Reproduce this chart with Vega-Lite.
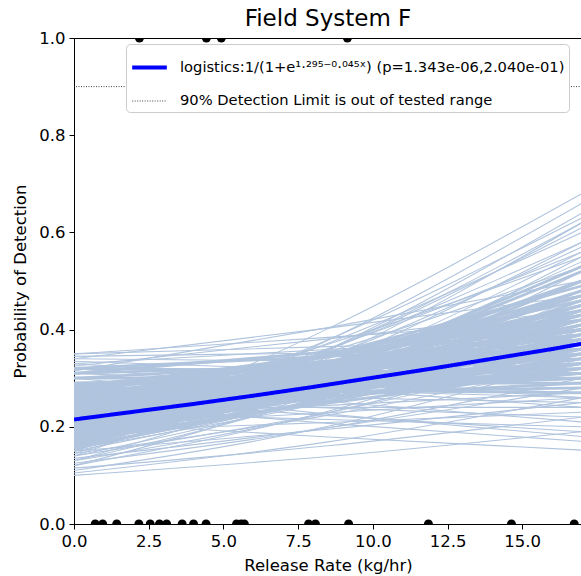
{
"$schema": "https://vega.github.io/schema/vega-lite/v6.json",
"width": 508,
"height": 486,
"autosize": {"type": "none"},
"padding": {"left": 74, "top": 38, "right": 0, "bottom": 52},
"title": {"text": "Field System F", "fontSize": 23, "font": "DejaVu Sans", "fontWeight": "normal", "color": "black", "offset": -1},
"config": {
  "font": "DejaVu Sans",
  "view": {"stroke": "black", "strokeWidth": 1},
  "axis": {"grid": false, "domainColor": "black", "tickColor": "black", "labelColor": "black", "titleColor": "black", "labelFontSize": 16.5, "titleFontSize": 16.5, "titleFontWeight": "normal", "tickSize": 5, "labelPadding": 4, "labelFont": "DejaVu Sans", "titleFont": "DejaVu Sans", "labelFlush": false},
  "legend": {"orient": "none", "legendX": 52, "legendY": 6, "fillColor": "white", "strokeColor": "#cccccc", "cornerRadius": 4, "padding": 4, "labelFontSize": 14.7, "labelFont": "DejaVu Sans", "labelColor": "black", "labelOffset": 11, "symbolType": "stroke", "symbolSize": 1200, "rowPadding": 7, "labelLimit": 0}
},
"datasets": {
"boot": [
{"g":1,"x":0,"p":0.16},{"g":1,"x":8.5,"p":0.304},{"g":1,"x":17,"p":0.5},
{"g":2,"x":0,"p":0.165},{"g":2,"x":8.5,"p":0.291},{"g":2,"x":17,"p":0.46},
{"g":3,"x":0,"p":0.17},{"g":3,"x":8.5,"p":0.32},{"g":3,"x":17,"p":0.52},
{"g":4,"x":0,"p":0.17},{"g":4,"x":8.5,"p":0.278},{"g":4,"x":17,"p":0.42},
{"g":5,"x":0,"p":0.175},{"g":5,"x":8.5,"p":0.307},{"g":5,"x":17,"p":0.48},
{"g":6,"x":0,"p":0.18},{"g":6,"x":8.5,"p":0.298},{"g":6,"x":17,"p":0.45},
{"g":7,"x":0,"p":0.18},{"g":7,"x":8.5,"p":0.268},{"g":7,"x":17,"p":0.38},
{"g":8,"x":0,"p":0.185},{"g":8,"x":8.5,"p":0.323},{"g":8,"x":17,"p":0.5},
{"g":9,"x":0,"p":0.19},{"g":9,"x":8.5,"p":0.288},{"g":9,"x":17,"p":0.41},
{"g":10,"x":0,"p":0.19},{"g":10,"x":8.5,"p":0.313},{"g":10,"x":17,"p":0.47},
{"g":11,"x":0,"p":0.195},{"g":11,"x":8.5,"p":0.27},{"g":11,"x":17,"p":0.36},
{"g":12,"x":0,"p":0.2},{"g":12,"x":8.5,"p":0.307},{"g":12,"x":17,"p":0.44},
{"g":13,"x":0,"p":0.2},{"g":13,"x":8.5,"p":0.286},{"g":13,"x":17,"p":0.39},
{"g":14,"x":0,"p":0.205},{"g":14,"x":8.5,"p":0.328},{"g":14,"x":17,"p":0.48},
{"g":15,"x":0,"p":0.21},{"g":15,"x":8.5,"p":0.27},{"g":15,"x":17,"p":0.34},
{"g":16,"x":0,"p":0.21},{"g":16,"x":8.5,"p":0.305},{"g":16,"x":17,"p":0.42},
{"g":17,"x":0,"p":0.215},{"g":17,"x":8.5,"p":0.286},{"g":17,"x":17,"p":0.37},
{"g":18,"x":0,"p":0.22},{"g":18,"x":8.5,"p":0.324},{"g":18,"x":17,"p":0.45},
{"g":19,"x":0,"p":0.22},{"g":19,"x":8.5,"p":0.262},{"g":19,"x":17,"p":0.31},
{"g":20,"x":0,"p":0.225},{"g":20,"x":8.5,"p":0.306},{"g":20,"x":17,"p":0.4},
{"g":21,"x":0,"p":0.23},{"g":21,"x":8.5,"p":0.291},{"g":21,"x":17,"p":0.36},
{"g":22,"x":0,"p":0.23},{"g":22,"x":8.5,"p":0.349},{"g":22,"x":17,"p":0.49},
{"g":23,"x":0,"p":0.235},{"g":23,"x":8.5,"p":0.28},{"g":23,"x":17,"p":0.33},
{"g":24,"x":0,"p":0.24},{"g":24,"x":8.5,"p":0.328},{"g":24,"x":17,"p":0.43},
{"g":25,"x":0,"p":0.24},{"g":25,"x":8.5,"p":0.264},{"g":25,"x":17,"p":0.29},
{"g":26,"x":0,"p":0.245},{"g":26,"x":8.5,"p":0.308},{"g":26,"x":17,"p":0.38},
{"g":27,"x":0,"p":0.25},{"g":27,"x":8.5,"p":0.298},{"g":27,"x":17,"p":0.35},
{"g":28,"x":0,"p":0.25},{"g":28,"x":8.5,"p":0.348},{"g":28,"x":17,"p":0.46},
{"g":29,"x":0,"p":0.255},{"g":29,"x":8.5,"p":0.277},{"g":29,"x":17,"p":0.3},
{"g":30,"x":0,"p":0.26},{"g":30,"x":8.5,"p":0.326},{"g":30,"x":17,"p":0.4},
{"g":31,"x":0,"p":0.26},{"g":31,"x":8.5,"p":0.294},{"g":31,"x":17,"p":0.33},
{"g":32,"x":0,"p":0.265},{"g":32,"x":8.5,"p":0.272},{"g":32,"x":17,"p":0.28},
{"g":33,"x":0,"p":0.27},{"g":33,"x":8.5,"p":0.318},{"g":33,"x":17,"p":0.37},
{"g":34,"x":0,"p":0.27},{"g":34,"x":8.5,"p":0.345},{"g":34,"x":17,"p":0.43},
{"g":35,"x":0,"p":0.275},{"g":35,"x":8.5,"p":0.292},{"g":35,"x":17,"p":0.31},
{"g":36,"x":0,"p":0.28},{"g":36,"x":8.5,"p":0.314},{"g":36,"x":17,"p":0.35},
{"g":37,"x":0,"p":0.28},{"g":37,"x":8.5,"p":0.275},{"g":37,"x":17,"p":0.27},
{"g":38,"x":0,"p":0.285},{"g":38,"x":8.5,"p":0.335},{"g":38,"x":17,"p":0.39},
{"g":39,"x":0,"p":0.29},{"g":39,"x":8.5,"p":0.305},{"g":39,"x":17,"p":0.32},
{"g":40,"x":0,"p":0.29},{"g":40,"x":8.5,"p":0.29},{"g":40,"x":17,"p":0.29},
{"g":41,"x":0,"p":0.155},{"g":41,"x":8.5,"p":0.275},{"g":41,"x":17,"p":0.44},
{"g":42,"x":0,"p":0.16},{"g":42,"x":8.5,"p":0.259},{"g":42,"x":17,"p":0.39},
{"g":43,"x":0,"p":0.165},{"g":43,"x":8.5,"p":0.321},{"g":43,"x":17,"p":0.53},
{"g":44,"x":0,"p":0.175},{"g":44,"x":8.5,"p":0.253},{"g":44,"x":17,"p":0.35},
{"g":45,"x":0,"p":0.185},{"g":45,"x":8.5,"p":0.293},{"g":45,"x":17,"p":0.43},
{"g":46,"x":0,"p":0.195},{"g":46,"x":8.5,"p":0.33},{"g":46,"x":17,"p":0.5},
{"g":47,"x":0,"p":0.2},{"g":47,"x":8.5,"p":0.26},{"g":47,"x":17,"p":0.33},
{"g":48,"x":0,"p":0.21},{"g":48,"x":8.5,"p":0.327},{"g":48,"x":17,"p":0.47},
{"g":49,"x":0,"p":0.22},{"g":49,"x":8.5,"p":0.294},{"g":49,"x":17,"p":0.38},
{"g":50,"x":0,"p":0.225},{"g":50,"x":8.5,"p":0.279},{"g":50,"x":17,"p":0.34},
{"g":51,"x":0,"p":0.23},{"g":51,"x":8.5,"p":0.313},{"g":51,"x":17,"p":0.41},
{"g":52,"x":0,"p":0.24},{"g":52,"x":8.5,"p":0.297},{"g":52,"x":17,"p":0.36},
{"g":53,"x":0,"p":0.245},{"g":53,"x":8.5,"p":0.349},{"g":53,"x":17,"p":0.47},
{"g":54,"x":0,"p":0.25},{"g":54,"x":8.5,"p":0.32},{"g":54,"x":17,"p":0.4},
{"g":55,"x":0,"p":0.26},{"g":55,"x":8.5,"p":0.344},{"g":55,"x":17,"p":0.44},
{"g":56,"x":0,"p":0.265},{"g":56,"x":8.5,"p":0.31},{"g":56,"x":17,"p":0.36},
{"g":57,"x":0,"p":0.27},{"g":57,"x":8.5,"p":0.285},{"g":57,"x":17,"p":0.3},
{"g":58,"x":0,"p":0.275},{"g":58,"x":8.5,"p":0.335},{"g":58,"x":17,"p":0.4},
{"g":59,"x":0,"p":0.28},{"g":59,"x":8.5,"p":0.347},{"g":59,"x":17,"p":0.42},
{"g":60,"x":0,"p":0.285},{"g":60,"x":8.5,"p":0.307},{"g":60,"x":17,"p":0.33},
{"g":61,"x":0,"p":0.3},{"g":61,"x":8.5,"p":0.329},{"g":61,"x":17,"p":0.36},
{"g":62,"x":0,"p":0.3},{"g":62,"x":8.5,"p":0.3},{"g":62,"x":17,"p":0.3},
{"g":63,"x":0,"p":0.31},{"g":63,"x":8.5,"p":0.325},{"g":63,"x":17,"p":0.34},
{"g":64,"x":0,"p":0.31},{"g":64,"x":8.5,"p":0.354},{"g":64,"x":17,"p":0.4},
{"g":65,"x":0,"p":0.32},{"g":65,"x":8.5,"p":0.315},{"g":65,"x":17,"p":0.31},
{"g":66,"x":0,"p":0.32},{"g":66,"x":8.5,"p":0.345},{"g":66,"x":17,"p":0.37},
{"g":67,"x":0,"p":0.19},{"g":67,"x":8.5,"p":0.249},{"g":67,"x":17,"p":0.32},
{"g":68,"x":0,"p":0.18},{"g":68,"x":8.5,"p":0.281},{"g":68,"x":17,"p":0.41},
{"g":69,"x":0,"p":0.205},{"g":69,"x":8.5,"p":0.28},{"g":69,"x":17,"p":0.37},
{"g":70,"x":0,"p":0.215},{"g":70,"x":8.5,"p":0.312},{"g":70,"x":17,"p":0.43},
{"g":71,"x":0,"p":0.235},{"g":71,"x":8.5,"p":0.334},{"g":71,"x":17,"p":0.45},
{"g":72,"x":0,"p":0.255},{"g":72,"x":8.5,"p":0.332},{"g":72,"x":17,"p":0.42},
{"g":73,"x":0,"p":0.17},{"g":73,"x":8.5,"p":0.253},{"g":73,"x":17,"p":0.36},
{"g":74,"x":0,"p":0.24},{"g":74,"x":8.5,"p":0.31},{"g":74,"x":17,"p":0.39},
{"g":75,"x":0,"p":0.22},{"g":75,"x":8.5,"p":0.28},{"g":75,"x":17,"p":0.35},
{"g":76,"x":0,"p":0.26},{"g":76,"x":8.5,"p":0.312},{"g":76,"x":17,"p":0.37},
{"g":77,"x":0,"p":0.2},{"g":77,"x":8.5,"p":0.298},{"g":77,"x":17,"p":0.42},
{"g":78,"x":0,"p":0.23},{"g":78,"x":8.5,"p":0.273},{"g":78,"x":17,"p":0.32},
{"g":79,"x":0,"p":0.195},{"g":79,"x":8.5,"p":0.304},{"g":79,"x":17,"p":0.44},
{"g":80,"x":0,"p":0.25},{"g":80,"x":8.5,"p":0.279},{"g":80,"x":17,"p":0.31},
{"g":81,"x":0,"p":0.175},{"g":81,"x":8.5,"p":0.402},{"g":81,"x":17,"p":0.68},
{"g":82,"x":0,"p":0.16},{"g":82,"x":8.5,"p":0.378},{"g":82,"x":17,"p":0.66},
{"g":83,"x":0,"p":0.15},{"g":83,"x":8.5,"p":0.359},{"g":83,"x":17,"p":0.64},
{"g":84,"x":0,"p":0.18},{"g":84,"x":8.5,"p":0.379},{"g":84,"x":17,"p":0.63},
{"g":85,"x":0,"p":0.14},{"g":85,"x":8.5,"p":0.34},{"g":85,"x":17,"p":0.62},
{"g":86,"x":0,"p":0.19},{"g":86,"x":8.5,"p":0.372},{"g":86,"x":17,"p":0.6},
{"g":87,"x":0,"p":0.15},{"g":87,"x":8.5,"p":0.33},{"g":87,"x":17,"p":0.58},
{"g":88,"x":0,"p":0.17},{"g":88,"x":8.5,"p":0.343},{"g":88,"x":17,"p":0.57},
{"g":89,"x":0,"p":0.2},{"g":89,"x":8.5,"p":0.361},{"g":89,"x":17,"p":0.56},
{"g":90,"x":0,"p":0.13},{"g":90,"x":8.5,"p":0.299},{"g":90,"x":17,"p":0.55},
{"g":91,"x":0,"p":0.165},{"g":91,"x":8.5,"p":0.357},{"g":91,"x":17,"p":0.61},
{"g":92,"x":0,"p":0.155},{"g":92,"x":8.5,"p":0.317},{"g":92,"x":17,"p":0.54},
{"g":93,"x":0,"p":0.185},{"g":93,"x":8.5,"p":0.359},{"g":93,"x":17,"p":0.58},
{"g":94,"x":0,"p":0.12},{"g":94,"x":8.5,"p":0.278},{"g":94,"x":17,"p":0.52},
{"g":95,"x":0,"p":0.21},{"g":95,"x":8.5,"p":0.354},{"g":95,"x":17,"p":0.53},
{"g":96,"x":0,"p":0.145},{"g":96,"x":8.5,"p":0.317},{"g":96,"x":17,"p":0.56},
{"g":97,"x":0,"p":0.22},{"g":97,"x":8.5,"p":0.37},{"g":97,"x":17,"p":0.55},
{"g":98,"x":0,"p":0.16},{"g":98,"x":8.5,"p":0.358},{"g":98,"x":17,"p":0.62},
{"g":99,"x":0,"p":0.35},{"g":99,"x":8.5,"p":0.384},{"g":99,"x":17,"p":0.42},
{"g":100,"x":0,"p":0.345},{"g":100,"x":8.5,"p":0.352},{"g":100,"x":17,"p":0.36},
{"g":101,"x":0,"p":0.34},{"g":101,"x":8.5,"p":0.403},{"g":101,"x":17,"p":0.47},
{"g":102,"x":0,"p":0.335},{"g":102,"x":8.5,"p":0.317},{"g":102,"x":17,"p":0.3},
{"g":103,"x":0,"p":0.33},{"g":103,"x":8.5,"p":0.359},{"g":103,"x":17,"p":0.39},
{"g":104,"x":0,"p":0.325},{"g":104,"x":8.5,"p":0.381},{"g":104,"x":17,"p":0.44},
{"g":105,"x":0,"p":0.34},{"g":105,"x":8.5,"p":0.335},{"g":105,"x":17,"p":0.33},
{"g":106,"x":0,"p":0.33},{"g":106,"x":8.5,"p":0.294},{"g":106,"x":17,"p":0.26},
{"g":107,"x":0,"p":0.315},{"g":107,"x":8.5,"p":0.404},{"g":107,"x":17,"p":0.5},
{"g":108,"x":0,"p":0.35},{"g":108,"x":8.5,"p":0.365},{"g":108,"x":17,"p":0.38},
{"g":109,"x":0,"p":0.1},{"g":109,"x":8.5,"p":0.139},{"g":109,"x":17,"p":0.19},
{"g":110,"x":0,"p":0.105},{"g":110,"x":8.5,"p":0.169},{"g":110,"x":17,"p":0.26},
{"g":111,"x":0,"p":0.11},{"g":111,"x":8.5,"p":0.201},{"g":111,"x":17,"p":0.34},
{"g":112,"x":0,"p":0.115},{"g":112,"x":8.5,"p":0.161},{"g":112,"x":17,"p":0.22},
{"g":113,"x":0,"p":0.12},{"g":113,"x":8.5,"p":0.232},{"g":113,"x":17,"p":0.4},
{"g":114,"x":0,"p":0.125},{"g":114,"x":8.5,"p":0.198},{"g":114,"x":17,"p":0.3},
{"g":115,"x":0,"p":0.13},{"g":115,"x":8.5,"p":0.229},{"g":115,"x":17,"p":0.37},
{"g":116,"x":0,"p":0.135},{"g":116,"x":8.5,"p":0.198},{"g":116,"x":17,"p":0.28},
{"g":117,"x":0,"p":0.14},{"g":117,"x":8.5,"p":0.263},{"g":117,"x":17,"p":0.44},
{"g":118,"x":0,"p":0.145},{"g":118,"x":8.5,"p":0.224},{"g":118,"x":17,"p":0.33},
{"g":119,"x":0,"p":0.15},{"g":119,"x":8.5,"p":0.195},{"g":119,"x":17,"p":0.25},
{"g":120,"x":0,"p":0.155},{"g":120,"x":8.5,"p":0.251},{"g":120,"x":17,"p":0.38},
{"g":121,"x":0,"p":0.13},{"g":121,"x":8.5,"p":0.267},{"g":121,"x":17,"p":0.47},
{"g":122,"x":0,"p":0.14},{"g":122,"x":8.5,"p":0.229},{"g":122,"x":17,"p":0.35},
{"g":123,"x":0,"p":0.15},{"g":123,"x":8.5,"p":0.263},{"g":123,"x":17,"p":0.42},
{"g":124,"x":0,"p":0.21},{"g":124,"x":8.5,"p":0.179},{"g":124,"x":17,"p":0.152},
{"g":125,"x":0,"p":0.25},{"g":125,"x":8.5,"p":0.207},{"g":125,"x":17,"p":0.17},
{"g":126,"x":0,"p":0.28},{"g":126,"x":8.5,"p":0.226},{"g":126,"x":17,"p":0.18},
{"g":127,"x":0,"p":0.23},{"g":127,"x":8.5,"p":0.215},{"g":127,"x":17,"p":0.2},
{"g":128,"x":0,"p":0.3},{"g":128,"x":8.5,"p":0.252},{"g":128,"x":17,"p":0.21},
{"g":129,"x":0,"p":0.26},{"g":129,"x":8.5,"p":0.239},{"g":129,"x":17,"p":0.22},
{"g":130,"x":0,"p":0.19},{"g":130,"x":8.5,"p":0.209},{"g":130,"x":17,"p":0.23},
{"g":131,"x":0,"p":0.32},{"g":131,"x":8.5,"p":0.278},{"g":131,"x":17,"p":0.24},
{"g":132,"x":0,"p":0.27},{"g":132,"x":8.5,"p":0.26},{"g":132,"x":17,"p":0.25},
{"g":133,"x":0,"p":0.29},{"g":133,"x":8.5,"p":0.275},{"g":133,"x":17,"p":0.26},
{"g":134,"x":0,"p":0.24},{"g":134,"x":8.5,"p":0.24},{"g":134,"x":17,"p":0.24},
{"g":135,"x":0,"p":0.31},{"g":135,"x":8.5,"p":0.29},{"g":135,"x":17,"p":0.27},
{"g":136,"x":0,"p":0.2},{"g":136,"x":8.5,"p":0.229},{"g":136,"x":17,"p":0.26},
{"g":137,"x":0,"p":0.26},{"g":137,"x":8.5,"p":0.223},{"g":137,"x":17,"p":0.19},
{"g":138,"x":0,"p":0.22},{"g":138,"x":8.5,"p":0.244},{"g":138,"x":17,"p":0.27}
],
"main": [
{"x":0,"p":0.215,"series":"logistics:1/(1+e¹·²⁹⁵⁻⁰·⁰⁴⁵ˣ) (p=1.343e-06,2.040e-01)"},
{"x":2,"p":0.231,"series":"logistics:1/(1+e¹·²⁹⁵⁻⁰·⁰⁴⁵ˣ) (p=1.343e-06,2.040e-01)"},
{"x":4,"p":0.247,"series":"logistics:1/(1+e¹·²⁹⁵⁻⁰·⁰⁴⁵ˣ) (p=1.343e-06,2.040e-01)"},
{"x":6,"p":0.264,"series":"logistics:1/(1+e¹·²⁹⁵⁻⁰·⁰⁴⁵ˣ) (p=1.343e-06,2.040e-01)"},
{"x":8,"p":0.282,"series":"logistics:1/(1+e¹·²⁹⁵⁻⁰·⁰⁴⁵ˣ) (p=1.343e-06,2.040e-01)"},
{"x":10,"p":0.301,"series":"logistics:1/(1+e¹·²⁹⁵⁻⁰·⁰⁴⁵ˣ) (p=1.343e-06,2.040e-01)"},
{"x":12,"p":0.32,"series":"logistics:1/(1+e¹·²⁹⁵⁻⁰·⁰⁴⁵ˣ) (p=1.343e-06,2.040e-01)"},
{"x":14,"p":0.34,"series":"logistics:1/(1+e¹·²⁹⁵⁻⁰·⁰⁴⁵ˣ) (p=1.343e-06,2.040e-01)"},
{"x":16,"p":0.36,"series":"logistics:1/(1+e¹·²⁹⁵⁻⁰·⁰⁴⁵ˣ) (p=1.343e-06,2.040e-01)"},
{"x":17,"p":0.371,"series":"logistics:1/(1+e¹·²⁹⁵⁻⁰·⁰⁴⁵ˣ) (p=1.343e-06,2.040e-01)"}
],
"limit": [
{"p":0.9,"series":"90% Detection Limit is out of tested range"}
],
"pts": [
{"x":0.71,"d":0},{"x":0.96,"d":0},{"x":1.43,"d":0},{"x":2.17,"d":0},{"x":2.55,"d":0},{"x":2.86,"d":0},{"x":3.1,"d":0},{"x":3.62,"d":0},{"x":4.0,"d":0},{"x":4.42,"d":0},{"x":5.44,"d":0},{"x":5.59,"d":0},{"x":5.7,"d":0},{"x":7.85,"d":0},{"x":8.08,"d":0},{"x":9.19,"d":0},{"x":11.86,"d":0},{"x":14.64,"d":0},{"x":16.74,"d":0},
{"x":2.19,"d":1},{"x":4.43,"d":1},{"x":4.93,"d":1},{"x":9.15,"d":1}
]
},
"layer": [
{
  "data": {"name": "boot"},
  "transform": [{"filter": "datum.g > 80"}],
  "mark": {"type": "line", "color": "#b0c4de", "strokeWidth": 1.1, "interpolate": "monotone", "clip": true},
  "encoding": {
    "x": {"field": "x", "type": "quantitative", "scale": {"domain": [0, 17], "nice": false, "zero": false},
          "axis": {"title": "Release Rate (kg/hr)", "values": [0, 2.5, 5, 7.5, 10, 12.5, 15], "format": ".1f", "titlePadding": 8}},
    "y": {"field": "p", "type": "quantitative", "scale": {"domain": [0, 1], "nice": false},
          "axis": {"title": "Probability of Detection", "values": [0, 0.2, 0.4, 0.6, 0.8, 1.0], "format": ".1f", "titlePadding": 10}},
    "detail": {"field": "g", "type": "nominal"}
  }
},
{
  "data": {"name": "boot"},
  "transform": [{"filter": "datum.g <= 80"}],
  "mark": {"type": "line", "color": "#b0c4de", "strokeWidth": 2.8, "interpolate": "monotone", "clip": true},
  "encoding": {
    "x": {"field": "x", "type": "quantitative"},
    "y": {"field": "p", "type": "quantitative"},
    "detail": {"field": "g", "type": "nominal"}
  }
},
{
  "data": {"name": "main"},
  "mark": {"type": "line", "clip": true},
  "encoding": {
    "x": {"field": "x", "type": "quantitative"},
    "y": {"field": "p", "type": "quantitative"},
    "color": {"field": "series", "type": "nominal", "scale": {"domain": ["logistics:1/(1+e¹·²⁹⁵⁻⁰·⁰⁴⁵ˣ) (p=1.343e-06,2.040e-01)", "90% Detection Limit is out of tested range"], "range": ["#0000ff", "#444444"]}, "legend": {"title": null}},
    "strokeDash": {"field": "series", "type": "nominal", "scale": {"domain": ["logistics:1/(1+e¹·²⁹⁵⁻⁰·⁰⁴⁵ˣ) (p=1.343e-06,2.040e-01)", "90% Detection Limit is out of tested range"], "range": [[1, 0], [1, 1.5]]}, "legend": {"title": null}},
    "strokeWidth": {"field": "series", "type": "nominal", "scale": {"type": "ordinal", "domain": ["logistics:1/(1+e¹·²⁹⁵⁻⁰·⁰⁴⁵ˣ) (p=1.343e-06,2.040e-01)", "90% Detection Limit is out of tested range"], "range": [4, 1]}, "legend": {"title": null}}
  }
},
{
  "data": {"name": "limit"},
  "mark": {"type": "rule"},
  "encoding": {
    "y": {"field": "p", "type": "quantitative"},
    "color": {"field": "series", "type": "nominal", "scale": {"domain": ["logistics:1/(1+e¹·²⁹⁵⁻⁰·⁰⁴⁵ˣ) (p=1.343e-06,2.040e-01)", "90% Detection Limit is out of tested range"], "range": ["#0000ff", "#444444"]}, "legend": {"title": null}},
    "strokeDash": {"field": "series", "type": "nominal", "scale": {"domain": ["logistics:1/(1+e¹·²⁹⁵⁻⁰·⁰⁴⁵ˣ) (p=1.343e-06,2.040e-01)", "90% Detection Limit is out of tested range"], "range": [[1, 0], [1, 1.5]]}, "legend": {"title": null}},
    "strokeWidth": {"field": "series", "type": "nominal", "scale": {"type": "ordinal", "domain": ["logistics:1/(1+e¹·²⁹⁵⁻⁰·⁰⁴⁵ˣ) (p=1.343e-06,2.040e-01)", "90% Detection Limit is out of tested range"], "range": [4, 1]}, "legend": {"title": null}}
  }
},
{
  "data": {"name": "pts"},
  "mark": {"type": "circle", "size": 80, "color": "black", "opacity": 1, "clip": true},
  "encoding": {
    "x": {"field": "x", "type": "quantitative"},
    "y": {"field": "d", "type": "quantitative"}
  }
}
]
}
